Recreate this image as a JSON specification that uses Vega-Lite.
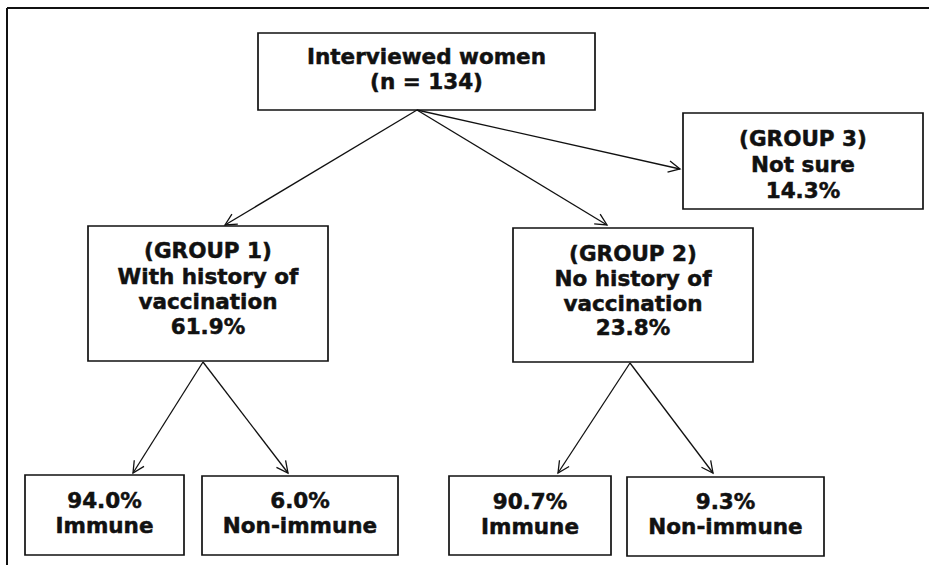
{
  "$schema": "https://vega.github.io/schema/vega-lite/v6.json",
  "width": 929,
  "height": 565,
  "padding": 0,
  "autosize": "none",
  "background": "white",
  "config": {"view": {"stroke": null}},
  "datasets": {
    "frame": [
      {"x": 7, "y": 8, "x2": 929, "y2": 8},
      {"x": 7, "y": 8, "x2": 7, "y2": 565}
    ],
    "boxes": [
      {"id": "top", "x": 258, "x2": 595, "y": 33, "y2": 110},
      {"id": "g3", "x": 683, "x2": 923, "y": 113, "y2": 209},
      {"id": "g1", "x": 88, "x2": 328, "y": 226, "y2": 361},
      {"id": "g2", "x": 513, "x2": 753, "y": 228, "y2": 362},
      {"id": "b1", "x": 25, "x2": 184, "y": 475, "y2": 555},
      {"id": "b2", "x": 202, "x2": 398, "y": 476, "y2": 555},
      {"id": "b3", "x": 449, "x2": 611, "y": 476, "y2": 555},
      {"id": "b4", "x": 627, "x2": 824, "y": 477, "y2": 556}
    ],
    "arrows": [
      {"x": 417, "y": 110, "x2": 225, "y2": 225, "angle": 239.1},
      {"x": 417, "y": 110, "x2": 607, "y2": 225, "angle": 121.2},
      {"x": 417, "y": 110, "x2": 680, "y2": 169, "angle": 102.6},
      {"x": 203, "y": 362, "x2": 133, "y2": 473, "angle": 212.2},
      {"x": 203, "y": 362, "x2": 288, "y2": 473, "angle": 142.6},
      {"x": 630, "y": 363, "x2": 558, "y2": 473, "angle": 213.2},
      {"x": 630, "y": 363, "x2": 713, "y2": 473, "angle": 143.0}
    ],
    "labels": [
      {"x": 426.5, "y": 64, "label": "Interviewed women"},
      {"x": 426.5, "y": 89, "label": "(n = 134)"},
      {"x": 803, "y": 146, "label": "(GROUP 3)"},
      {"x": 803, "y": 172, "label": "Not sure"},
      {"x": 803, "y": 198, "label": "14.3%"},
      {"x": 208, "y": 258, "label": "(GROUP 1)"},
      {"x": 208, "y": 284, "label": "With history of"},
      {"x": 208, "y": 309, "label": "vaccination"},
      {"x": 208, "y": 334, "label": "61.9%"},
      {"x": 633, "y": 261, "label": "(GROUP 2)"},
      {"x": 633, "y": 286, "label": "No history of"},
      {"x": 633, "y": 311, "label": "vaccination"},
      {"x": 633, "y": 335, "label": "23.8%"},
      {"x": 104.5, "y": 508, "label": "94.0%"},
      {"x": 104.5, "y": 533, "label": "Immune"},
      {"x": 300, "y": 508, "label": "6.0%"},
      {"x": 300, "y": 533, "label": "Non-immune"},
      {"x": 530, "y": 509, "label": "90.7%"},
      {"x": 530, "y": 534, "label": "Immune"},
      {"x": 725.5, "y": 509, "label": "9.3%"},
      {"x": 725.5, "y": 534, "label": "Non-immune"}
    ]
  },
  "layer": [
    {
      "data": {"name": "frame"},
      "mark": {"type": "rule", "color": "#111111", "strokeWidth": 2},
      "encoding": {
        "x": {"field": "x", "type": "quantitative", "scale": {"domain": [0, 929], "nice": false, "zero": false}, "axis": null},
        "y": {"field": "y", "type": "quantitative", "scale": {"domain": [0, 565], "nice": false, "zero": false, "reverse": true}, "axis": null},
        "x2": {"field": "x2"},
        "y2": {"field": "y2"}
      }
    },
    {
      "data": {"name": "boxes"},
      "mark": {"type": "rect", "fill": "white", "stroke": "#111111", "strokeWidth": 1.7},
      "encoding": {
        "x": {"field": "x", "type": "quantitative", "scale": {"domain": [0, 929], "nice": false, "zero": false}, "axis": null},
        "y": {"field": "y", "type": "quantitative", "scale": {"domain": [0, 565], "nice": false, "zero": false, "reverse": true}, "axis": null},
        "x2": {"field": "x2"},
        "y2": {"field": "y2"}
      }
    },
    {
      "data": {"name": "arrows"},
      "mark": {"type": "rule", "color": "#111111", "strokeWidth": 1.3},
      "encoding": {
        "x": {"field": "x", "type": "quantitative", "scale": {"domain": [0, 929], "nice": false, "zero": false}, "axis": null},
        "y": {"field": "y", "type": "quantitative", "scale": {"domain": [0, 565], "nice": false, "zero": false, "reverse": true}, "axis": null},
        "x2": {"field": "x2"},
        "y2": {"field": "y2"}
      }
    },
    {
      "data": {"name": "arrows"},
      "mark": {"type": "point", "shape": "M -0.5 1 L 0 0 L 0.5 1", "filled": false, "color": "#111111", "strokeWidth": 1.3, "size": 529, "opacity": 1},
      "encoding": {
        "x": {"field": "x2", "type": "quantitative", "scale": {"domain": [0, 929], "nice": false, "zero": false}, "axis": null},
        "y": {"field": "y2", "type": "quantitative", "scale": {"domain": [0, 565], "nice": false, "zero": false, "reverse": true}, "axis": null},
        "angle": {"field": "angle", "type": "quantitative", "scale": null}
      }
    },
    {
      "data": {"name": "labels"},
      "mark": {"type": "text", "font": "DejaVu Sans", "fontWeight": "bold", "fontSize": 21.5, "align": "center", "baseline": "alphabetic", "color": "#111111", "stroke": "#111111", "strokeWidth": 0.5},
      "encoding": {
        "x": {"field": "x", "type": "quantitative", "scale": {"domain": [0, 929], "nice": false, "zero": false}, "axis": null},
        "y": {"field": "y", "type": "quantitative", "scale": {"domain": [0, 565], "nice": false, "zero": false, "reverse": true}, "axis": null},
        "text": {"field": "label"}
      }
    }
  ]
}
